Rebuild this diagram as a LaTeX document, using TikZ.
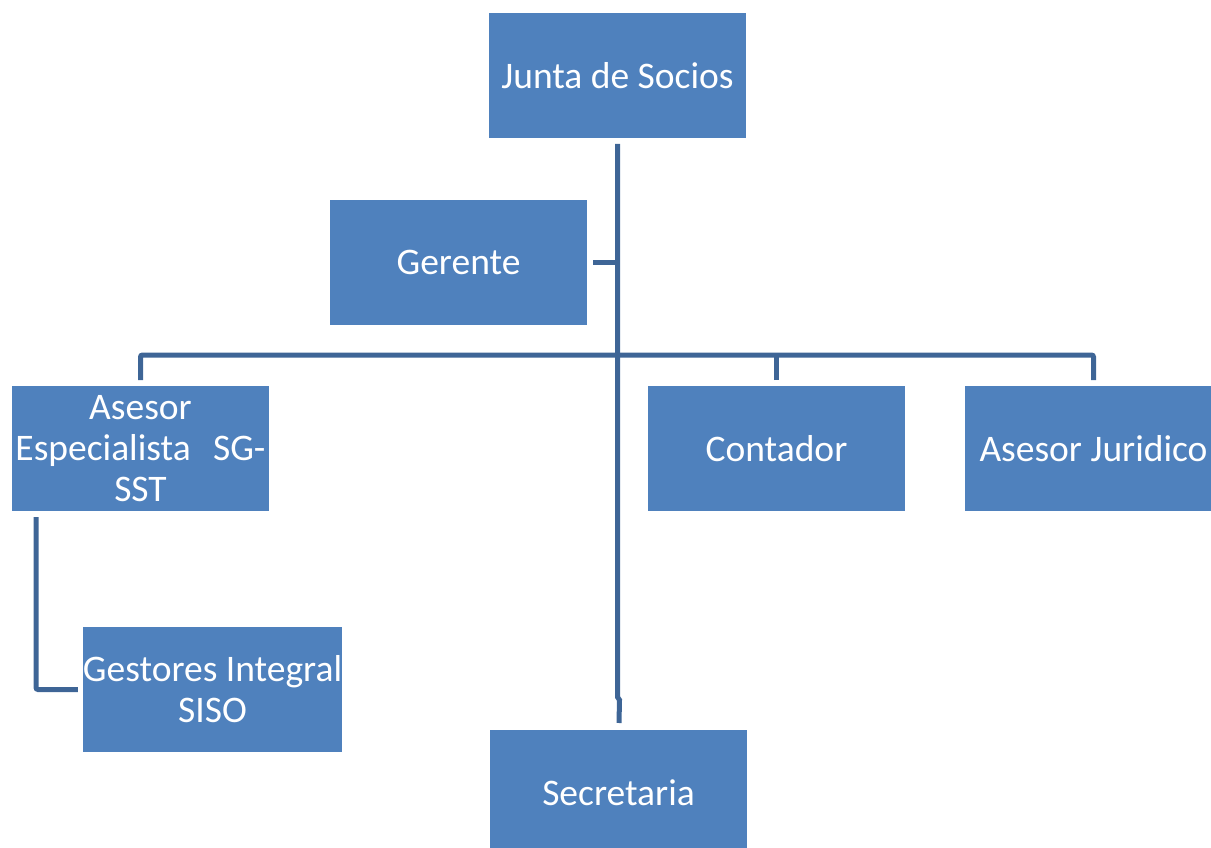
\documentclass[tikz,border=0pt]{standalone}
\usepackage{fontspec}
\setmainfont{Carlito}
\definecolor{boxblue}{HTML}{4F81BD}
\definecolor{lineblue}{HTML}{3E6596}
\begin{document}
\begin{tikzpicture}[x=1pt,y=-1pt,
  box/.style={rectangle,fill=boxblue,text=white,minimum width=257pt,minimum height=125pt,
    inner sep=0pt,outer sep=0pt,font=\fontsize{37.5}{41}\selectfont,align=center},
  conn/.style={draw=lineblue,line width=5pt}]
\useasboundingbox (0,0) rectangle (1211,848);
\clip (0,0) rectangle (1211,848);
\node[box] (junta) at (617.5,75.5) {Junta de Socios};
\node[box] (gerente) at (458.5,262.5) {Gerente};
\node[box,text width=250pt] (asesor) at (140.5,448.5) {Asesor\\Especialista\hfill SG-\\SST};
\node[box] (contador) at (776.5,448.5) {Contador};
\node[box] (juridico) at (1093.5,448.5) {Asesor Juridico};
\node[box] (gestores) at (212.5,689.5) {Gestores Integral\\SISO};
\node[box] (secretaria) at (618.5,792.5) {Secretaria};
% main vertical
\draw[conn] ([yshift=-6pt]junta.south) -- ++(0,553) -- ++(2,3) -- ([xshift=0.5pt,yshift=7pt]secretaria.north);
% gerente stub
\draw[conn] ([xshift=6pt]gerente.east) -- (gerente.east -| junta.south);
% bus
\draw[conn,rounded corners=2pt] ([yshift=6pt]asesor.north) -- (asesor.north |- 0,355) -- (juridico.north |- 0,355) -- ([yshift=6pt]juridico.north);
\draw[conn] ([yshift=6pt]contador.north) -- (contador.north |- 0,355);
% asesor to gestores
\draw[conn,rounded corners=2pt] ([xshift=-104.5pt,yshift=-6pt]asesor.south) |- ([xshift=-5pt]gestores.west);
\end{tikzpicture}
\end{document}
